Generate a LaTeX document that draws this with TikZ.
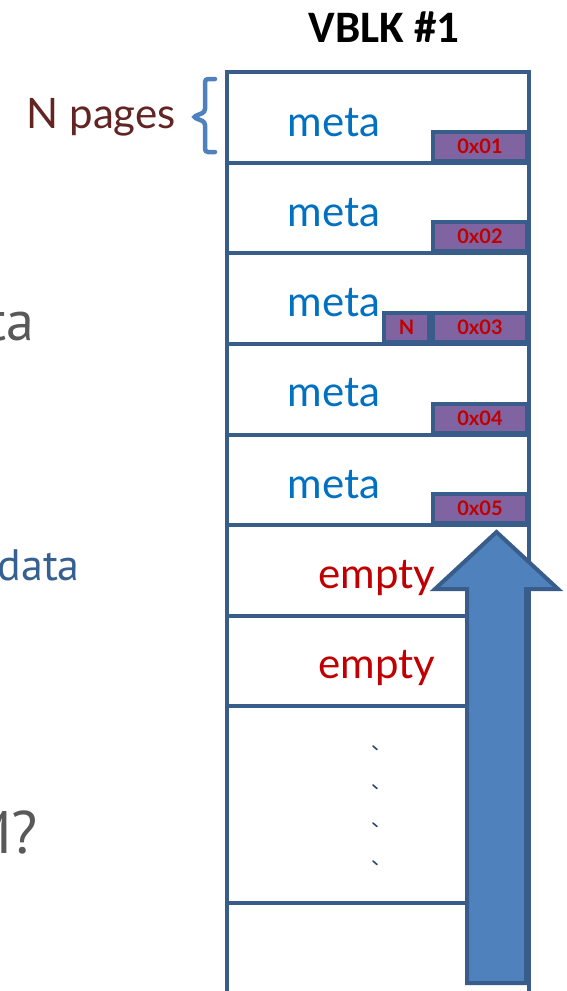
\documentclass[tikz,border=0pt]{standalone}
\usepackage{fontspec}
\newfontfamily\bodyfont{Lato}
\newfontfamily\titlefont{Carlito}
\newfontfamily\leftfont{PT Sans}
\definecolor{colline}{HTML}{385D8A}
\definecolor{tagfill}{HTML}{8064A2}
\definecolor{tagred}{HTML}{C00000}
\definecolor{metablue}{HTML}{0070C0}
\definecolor{arrowfill}{HTML}{4F81BD}
\definecolor{bracecol}{HTML}{4F81BD}
\definecolor{pagebrown}{HTML}{632523}
\definecolor{greytext}{HTML}{595959}
\definecolor{datablue}{HTML}{376092}
\begin{document}
\begin{tikzpicture}[x=1pt,y=-1pt,
  rowbox/.style={draw=colline,line width=4pt,fill=white},
  tagbox/.style={draw=colline,line width=4pt,fill=tagfill,inner sep=0pt,
    text=tagred,font=\bodyfont\bfseries\fontsize{20}{22}\selectfont},
  metatext/.style={text=metablue,font=\bodyfont\fontsize{42}{50}\selectfont,inner sep=0pt},
  emptytext/.style={text=tagred,font=\bodyfont\fontsize{42}{50}\selectfont,inner sep=0pt},
  dotmark/.style={draw=colline!80!black,line width=1.6pt,line cap=round},
  bigarrow/.style={draw=colline,line width=4pt,fill=arrowfill,line join=miter},
  bracestyle/.style={draw=bracecol,line width=4.5pt,rounded corners=3pt,line cap=round}]
\useasboundingbox (0,0) rectangle (566,991);
\clip (0,0) rectangle (566,991);
\fill[white] (0,0) rectangle (566,991);

% title
\node[font=\titlefont\bfseries\fontsize{45}{54}\selectfont,inner sep=0pt] (title) at (384,27) {VBLK \#1};

% rows
\foreach \i/\t/\b in {1/72/162.5,2/162.5/253,3/253/344,4/344/434.5,5/434.5/525,6/525/615.5,7/615.5/706,8/706/903,9/903/1000}{
  \draw[rowbox] (227,\t) rectangle (529,\b);
}

% tags
\foreach \i/\b/\lab in {1/162.5/0x01,2/253/0x02,3/344/0x03,4/434.5/0x04,5/525/0x05}{
  \node[tagbox,minimum width=94pt,minimum height=29pt,anchor=south east] (tag\i) at (529,\b) {\lab};
}
\node[tagbox,minimum width=45pt,minimum height=29pt,anchor=south east] (tagN) at (tag3.south west) {N};

% meta labels
\node[metatext] (meta1) at (334,123) {meta};
\node[metatext] (meta2) at (334,213) {meta};
\node[metatext] (meta3) at (334,303) {meta};
\node[metatext] (meta4) at (334,393) {meta};
\node[metatext] (meta5) at (334,485) {meta};

% empty labels
\node[emptytext] (empty1) at (377,578) {empty};
\node[emptytext] (empty2) at (377,668) {empty};

% dots
\foreach \y in {748,787,825,863}{
  \draw[dotmark] (373,\y-2) -- (377,\y+1.5);
}

% arrow
\draw[bigarrow] (467,983) -- (467,589) -- (435,589) -- (496.5,532) -- (558,589) -- (526,589) -- (526,983) -- cycle;

% brace and label
\draw[bracestyle] (215,79) -- (205,79) -- (205,112) -- (193,117) -- (205,122) -- (205,152) -- (215,152);
\node[text=pagebrown,font=\bodyfont\fontsize{42}{48}\selectfont,inner sep=0pt,anchor=east] (npages) at (176,117) {N pages};

% cut-off text on the left
\node[text=greytext,font=\leftfont\fontsize{56}{64}\selectfont,inner sep=0pt,anchor=base east] (leftta) at (34,340) {ta};
\node[text=datablue,font=\leftfont\fontsize{44}{52}\selectfont,inner sep=0pt,anchor=base east] (leftdata) at (80,580) {data};
\node[text=greytext,font=\leftfont\fontsize{60}{66}\selectfont,inner sep=0pt,anchor=base east] (leftm) at (38,853) {M?};
\end{tikzpicture}
\end{document}
